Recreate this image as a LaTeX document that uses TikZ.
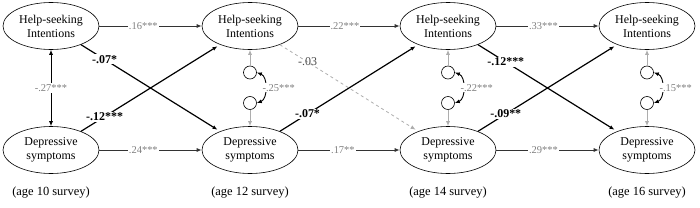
\documentclass[tikz,border=0pt]{standalone}
\usepackage{fontspec}
\setmainfont{Liberation Serif}
\usetikzlibrary{arrows.meta,shapes.geometric}
\definecolor{lblgray}{gray}{0.5}
\definecolor{resgray}{gray}{0.68}

\begin{document}
\begin{tikzpicture}[x=1bp, y=1bp, >={Latex[length=5bp,width=4bp]},
    var/.style={ellipse, draw, line width=0.6pt, minimum width=96bp, minimum height=47bp, inner sep=0pt, align=center, font=\fontsize{12}{14}\selectfont},
    res/.style={circle, draw, line width=0.6pt, minimum size=13bp, inner sep=0pt},
    coef/.style={fill=white, inner sep=1pt, text=lblgray, font=\fontsize{10.5}{12}\selectfont},
    bcoef/.style={fill=white, inner sep=1pt, font=\bfseries\fontsize{12}{14}\selectfont},
    stab/.style={->, line width=0.9pt, black!80},
    cross/.style={->, line width=1.2pt, shorten >=3bp},
    resarr/.style={->, line width=0.9pt, resgray},
    corr/.style={<->, line width=0.9pt}]
    \useasboundingbox (0,0) rectangle (700,207);
    % latent variables per wave
    \foreach \x/\a in {51/10, 250/12, 448/14, 647/16} {
        \node[var] (hi\a) at (\x,181) {Help-seeking\\Intentions};
        \node[var] (dep\a) at (\x,57) {Depressive\\symptoms};
        \node[font=\fontsize{12.5}{14}\selectfont] (age\a) at (\x,14) {(age \a\ survey)};
    }
    % residuals
    \foreach \x/\a/\r in {250/12/-.25***, 448/14/-.22***, 647/16/-.15***} {
        \node[res] (rh\a) at (\x,134.5) {};
        \node[res] (rd\a) at (\x,104) {};
        \draw[resarr] (rh\a) -- (hi\a);
        \draw[resarr] (rd\a) -- (dep\a);
        \draw[corr] (rh\a.east) to[bend left=70] node[coef, anchor=west, xshift=-4bp] {\r} (rd\a.east);
    }
    \draw[corr] (hi10) -- node[coef] {-.27***} (dep10);
    % stability paths
    \draw[stab] (hi10) -- node[coef, pos=0.43] {.16***} (hi12);
    \draw[stab] (hi12) -- node[coef, pos=0.46] {.22***} (hi14);
    \draw[stab] (hi14) -- node[coef, pos=0.46] {.33***} (hi16);
    \draw[stab] (dep10) -- node[coef, pos=0.43] {.24***} (dep12);
    \draw[stab] (dep12) -- node[coef, pos=0.44] {.17**} (dep14);
    \draw[stab] (dep14) -- node[coef, pos=0.46] {.29***} (dep16);
    % cross-lagged paths
    \draw[cross] (hi10) -- node[bcoef, pos=0.17] {-.07*} (dep12);
    \draw[cross] (dep10) -- node[bcoef, pos=0.17] {-.12***} (hi12);
    \draw[cross, line width=0.8pt, resgray, dashed] (hi12) -- node[coef, text=black!70, font=\fontsize{12}{14}\selectfont, fill=none, pos=0.2] {-.03} (dep14);
    \draw[cross] (dep12) -- node[bcoef, pos=0.2] {-.07*} (hi14);
    \draw[cross] (hi14) -- node[bcoef, pos=0.2] {-.12***} (dep16);
    \draw[cross] (dep14) -- node[bcoef, pos=0.2] {-.09**} (hi16);
\end{tikzpicture}
\end{document}
